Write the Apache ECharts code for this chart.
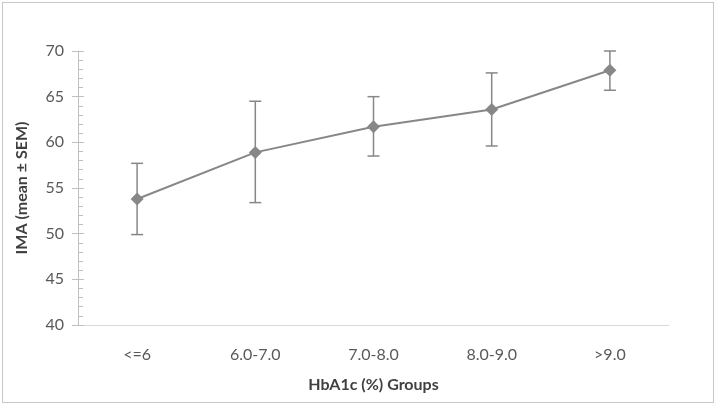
<!DOCTYPE html>
<html>
<head>
<meta charset="utf-8">
<script src="https://cdn.jsdelivr.net/npm/echarts@6/dist/echarts.min.js"></script>
<style>
  html, body { margin: 0; padding: 0; background: #fff; }
  #chart { position: absolute; left: 2px; top: 2px; width: 710px; height: 399px; border: 1px solid #c8c8c8; }
</style>
</head>
<body>
<div id="chart"></div>
<script>
// HbA1c groups and IMA values (mean, lower, upper)
var categories = ["<=6", "6.0-7.0", "7.0-8.0", "8.0-9.0", ">9.0"];
var means = [53.8, 58.9, 61.7, 63.6, 67.9];
var lower = [49.9, 53.4, 58.5, 59.6, 65.7];
var upper = [57.7, 64.5, 65.0, 67.6, 70.0];
var yTicks = [40, 45, 50, 55, 60, 65, 70];

var myChart = echarts.init(document.getElementById("chart"));
var grey = "#878787";
var errData = categories.map(function (c, i) { return [i, lower[i], upper[i]]; });

myChart.setOption({
  animation: false,
  grid: { left: 75, right: 44, top: 48, bottom: 77 },
  xAxis: {
    type: "category",
    data: categories,
    axisLine: { lineStyle: { color: "#d9d9d9", width: 1 } },
    axisTick: { show: false },
    axisLabel: { color: "#595959", fontSize: 16, fontFamily: "Lato", margin: 22 },
    name: "HbA1c (%) Groups",
    nameLocation: "middle",
    nameGap: 52,
    nameTextStyle: { color: "#404040", fontSize: 16, fontWeight: "bold", fontFamily: "Lato" }
  },
  yAxis: [
    {
      type: "value",
      min: yTicks[0],
      max: yTicks[yTicks.length - 1],
      interval: 5,
      axisLine: { show: true, lineStyle: { color: "#bfbfbf" } },
      axisTick: { show: true, inside: true, length: 6, lineStyle: { color: "#bfbfbf" } },
      minorTick: { show: true, splitNumber: 5, length: 5, lineStyle: { color: "#bfbfbf" } },
      splitLine: { show: false },
      axisLabel: { color: "#595959", fontSize: 16, fontFamily: "Lato", margin: 14 },
      name: "IMA (mean \u00b1 SEM)",
      nameLocation: "middle",
      nameGap: 48,
      nameRotate: 90,
      nameTextStyle: { color: "#404040", fontSize: 16, fontWeight: "bold", fontFamily: "Lato" }
    },
    {
      type: "value",
      position: "left",
      min: yTicks[0],
      max: yTicks[yTicks.length - 1],
      interval: 5,
      axisLine: { show: false },
      axisTick: { show: true, length: 6, lineStyle: { color: "#bfbfbf" } },
      axisLabel: { show: false },
      splitLine: { show: false }
    }
  ],
  series: [
    {
      type: "custom",
      renderItem: function (params, api) {
        var lo = api.coord([api.value(0), api.value(1)]);
        var hi = api.coord([api.value(0), api.value(2)]);
        var w = 6;
        var st = { stroke: grey, lineWidth: 1.5, fill: null };
        return {
          type: "group",
          children: [
            { type: "line", shape: { x1: lo[0], y1: lo[1], x2: hi[0], y2: hi[1] }, style: st },
            { type: "line", shape: { x1: lo[0] - w, y1: lo[1], x2: lo[0] + w, y2: lo[1] }, style: st },
            { type: "line", shape: { x1: hi[0] - w, y1: hi[1], x2: hi[0] + w, y2: hi[1] }, style: st }
          ]
        };
      },
      encode: { x: 0, y: [1, 2] },
      data: errData,
      z: 2
    },
    {
      type: "line",
      data: means,
      symbol: "diamond",
      symbolSize: 13,
      lineStyle: { color: grey, width: 2 },
      itemStyle: { color: grey },
      z: 3
    }
  ]
});
window.onresize = function () { myChart.resize(); };
</script>
</body>
</html>
